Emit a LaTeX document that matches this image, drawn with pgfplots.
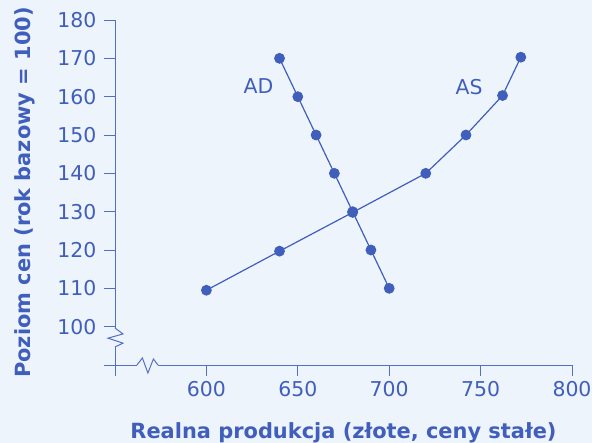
\documentclass[border=0pt]{standalone}
\usepackage{pgfplots}
\pgfplotsset{compat=1.18}
\usepackage{fontspec}
\setmainfont{DejaVu Sans}
\definecolor{bgcol}{RGB}{238,244,251}
\definecolor{maincol}{RGB}{64,94,188}
\definecolor{axcol}{RGB}{84,112,196}
\begin{document}
\begin{tikzpicture}
\useasboundingbox (0,0) rectangle (592bp,443bp);
\fill[bgcol] (0,0) rectangle (592bp,443bp);
\begin{axis}[
  at={(115bp,78bp)}, anchor=south west,
  scale only axis, width=457bp, height=345bp,
  xmin=550, xmax=800, ymin=90, ymax=180,
  axis x line*=bottom, axis y line*=left,
  axis line style={axcol, line width=1pt},
  xtick={600,650,...,800}, ytick={100,110,...,180},
  extra x ticks={550}, extra x tick labels={},
  extra y ticks={90}, extra y tick labels={},
  tick align=outside, major tick length=11bp,
  tick style={axcol, line width=1pt},
  /pgf/number format/assume math mode=true,
  /pgf/number format/1000 sep={},
  ticklabel style={font=\fontsize{20.5}{24}\selectfont, text=maincol},
  xticklabel style={yshift=-2bp},
  yticklabel style={xshift=-4bp},
  xlabel={Realna produkcja (złote, ceny stałe)},
  ylabel={Poziom cen (rok bazowy = 100)},
  label style={font=\bfseries\fontsize{21}{24}\selectfont, text=maincol},
  xlabel style={yshift=3bp},
  ylabel style={yshift=-6bp},
  clip=false,
]
\addplot[maincol, line width=1.2pt, mark=*, mark size=4.8pt, mark options={fill=maincol, draw=maincol}] coordinates {
 (640,170) (650,160) (660,150) (670,140) (680,130) (690,120) (700,110)};
\addplot[maincol, line width=1.2pt, mark=*, mark size=4.8pt, mark options={fill=maincol, draw=maincol}] coordinates {
 (600,109.5) (640,119.7) (680,129.8) (720,140) (742,150) (762,160.3) (772,170.3)};
\node[text=maincol, font=\fontsize{20.5}{24}\selectfont] at (axis cs:628.5,162.8) {AD};
\node[text=maincol, font=\fontsize{20.5}{24}\selectfont] at (axis cs:743.7,162.5) {AS};
% axis breaks
\draw[bgcol, line width=3bp] (axis cs:550,99.6) -- (axis cs:550,94.7);
\draw[axcol, line width=1pt] (axis cs:550,99.65) -- ([xshift=8bp]axis cs:550,98.1) -- ([xshift=-7bp]axis cs:550,97.0) -- ([xshift=8bp]axis cs:550,95.7) -- (axis cs:550,94.7);
\draw[bgcol, line width=3bp] (axis cs:562,90) -- (axis cs:573.5,90);
\draw[axcol, line width=1pt] (axis cs:562,90) -- ([yshift=7bp]axis cs:565,90) -- ([yshift=-8bp]axis cs:568,90) -- ([yshift=6bp]axis cs:571,90) -- (axis cs:573.5,90);
\end{axis}
\end{tikzpicture}
\end{document}
